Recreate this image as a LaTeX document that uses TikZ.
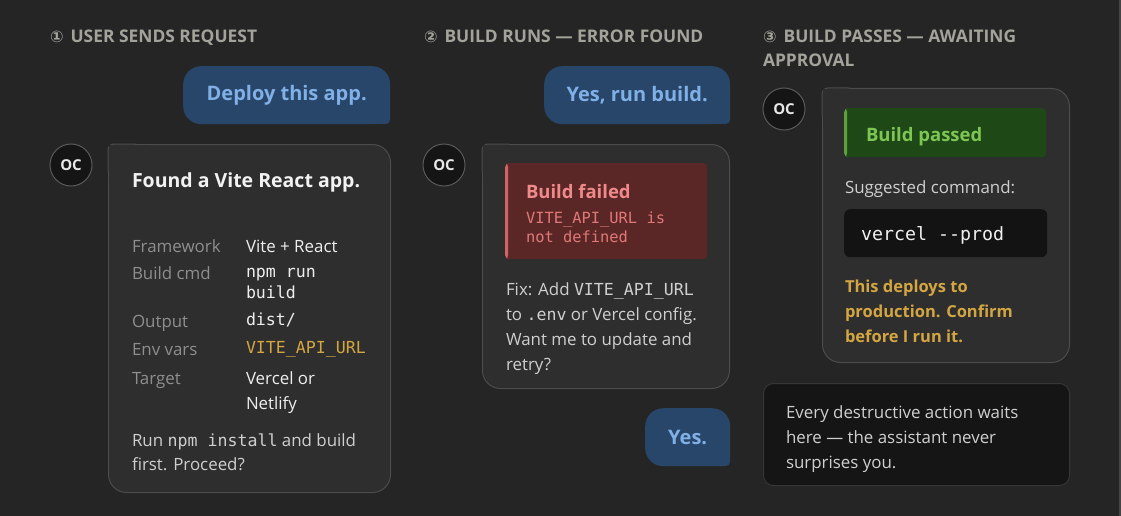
\documentclass[tikz,border=0pt]{standalone}
\usepackage{fontspec}
\setmainfont{Open Sans}
\setmonofont{DejaVu Sans Mono}
\newfontfamily\symfont{DejaVu Sans}
\definecolor{bg}{HTML}{252525}
\definecolor{edgecol}{HTML}{444444}
\definecolor{hdr}{HTML}{A3A39B}
\definecolor{ubfill}{HTML}{27466A}
\definecolor{utext}{HTML}{80B0E6}
\definecolor{abfill}{HTML}{2E2E2E}
\definecolor{abline}{HTML}{4C4C4C}
\definecolor{avfill}{HTML}{151515}
\definecolor{avline}{HTML}{5A5A5A}
\definecolor{avtext}{HTML}{E8E8E8}
\definecolor{titlecol}{HTML}{F2F2F2}
\definecolor{lbl}{HTML}{8E8E8E}
\definecolor{val}{HTML}{EEEEEE}
\definecolor{body}{HTML}{CFCFCF}
\definecolor{gold}{HTML}{D4A642}
\definecolor{redfill}{HTML}{5B2626}
\definecolor{redbar}{HTML}{D46464}
\definecolor{redtitle}{HTML}{F08A8A}
\definecolor{redmono}{HTML}{E07878}
\definecolor{greenfill}{HTML}{1F4817}
\definecolor{greenbar}{HTML}{5DA33C}
\definecolor{greentext}{HTML}{7DC653}
\definecolor{codefill}{HTML}{131313}
\definecolor{codetext}{HTML}{F0F0F0}
\definecolor{notefill}{HTML}{151515}
\definecolor{noteline}{HTML}{363636}
\newcommand\mono[1]{{\fontsize{16.6}{24}\ttfamily #1}}
\newcommand\numsym[1]{{\symfont\fontsize{16}{18}\selectfont #1}\hspace{7pt}}
\begin{document}
\begin{tikzpicture}[x=1pt,y=-1pt,
  txt/.style={anchor=base west, inner sep=0pt, outer sep=0pt, align=left},
  hdr/.style={txt, text=hdr, font=\fontsize{17.4}{24}\selectfont\bfseries},
  ububble/.style={anchor=north west, fill=ubfill, rounded corners=18pt, text=utext,
     font=\fontsize{20}{24}\selectfont\bfseries, inner sep=0pt},
  abubble/.style={anchor=north west, fill=abfill, draw=abline, line width=1pt, rounded corners=18pt, inner sep=0pt},
  avatar/.style={circle, fill=avfill, draw=avline, line width=1pt, minimum size=42pt, inner sep=0pt,
     text=avtext, font=\fontsize{15}{18}\selectfont\bfseries},
  bodytxt/.style={txt, text=body, font=\fontsize{16.9}{24.7}\selectfont},
  lbltxt/.style={txt, text=lbl, font=\fontsize{16.9}{24.5}\selectfont},
  valtxt/.style={txt, text=val, font=\fontsize{16.9}{24.5}\selectfont},
  monoval/.style={txt, text=val, font=\fontsize{16.6}{21}\selectfont\ttfamily},
]
\useasboundingbox (0,0) rectangle (1121,516);
\fill[bg] (0,0) rectangle (1121,516);
\fill[edgecol] (1118.5,0) rectangle (1121,516);

% ---------- column 1 ----------
\node[hdr] (h1) at (50,43) {\numsym{①}USER SENDS REQUEST};
\fill[ubfill, rounded corners=4pt] (370,104) rectangle (390,124);
\node[ububble, minimum width=207pt, minimum height=58pt] (u1) at (183,66) {Deploy this app.};
\node[avatar] (a1) at (71,165) {OC};
\node[abubble, minimum width=282pt, minimum height=348pt] (b1) at (108,144) {};
\path[fill=abfill, draw=abline, line width=1pt, rounded corners=6pt] (108,144) rectangle (140,176);
\fill[abfill] (108.8,144.8) rectangle (148,184);
\node[txt, text=titlecol, font=\fontsize{19.5}{24}\selectfont\bfseries] (t1) at (132,187) {Found a Vite React app.};
\node[lbltxt] (l1) at (132,252) {Framework};
\node[lbltxt] (l2) at (132,279) {Build cmd};
\node[lbltxt] (l3) at (132,327) {Output};
\node[lbltxt] (l4) at (132,355) {Env vars};
\node[lbltxt] (l5) at (132,384) {Target};
\node[valtxt] (v1) at (246,252) {Vite + React};
\node[monoval] (v2) at (246,298) {npm run\\build};
\node[monoval] (v3) at (246,325) {dist/};
\node[monoval, text=gold] (v4) at (246,353) {VITE\_API\_URL};
\node[valtxt, font=\fontsize{16.9}{25}\selectfont] (v5) at (246,409) {Vercel or\\Netlify};
\node[bodytxt, font=\fontsize{16.9}{23.5}\selectfont] (p1) at (132,470) {Run \mono{npm install} and build\\first. Proceed?};

% ---------- column 2 ----------
\node[hdr] (h2) at (424,43) {\numsym{②}BUILD RUNS — ERROR FOUND};
\fill[ubfill, rounded corners=4pt] (710,104) rectangle (730,124);
\node[ububble, minimum width=186pt, minimum height=58pt] (u2) at (544,66) {Yes, run build.};
\node[avatar] (a2) at (444,165) {OC};
\node[abubble, minimum width=247pt, minimum height=244pt] (b2) at (482,144) {};
\path[fill=abfill, draw=abline, line width=1pt, rounded corners=6pt] (482,144) rectangle (514,176);
\fill[abfill] (482.8,144.8) rectangle (520,182);
\node[anchor=north west, fill=redfill, rounded corners=4pt, minimum width=202pt, minimum height=96pt, inner sep=0pt,
   path picture={\fill[redbar] (path picture bounding box.north west) rectangle ([xshift=3pt]path picture bounding box.south west);}]
   (e2) at (505,163) {};
\node[txt, text=redtitle, font=\fontsize{18.5}{22}\selectfont\bfseries] (et) at (526,198) {Build failed};
\node[txt, text=redmono, font=\fontsize{15.4}{19}\selectfont\ttfamily] (em) at (526,242) {VITE\_API\_URL is\\not defined};
\node[bodytxt] (p2) at (506,370) {Fix: Add \mono{VITE\_API\_URL}\\to \mono{.env} or Vercel config.\\Want me to update and\\retry?};
\fill[ubfill, rounded corners=4pt] (710,446) rectangle (730,466);
\node[ububble, minimum width=85pt, minimum height=58pt] (u3) at (645,408) {Yes.};

% ---------- column 3 ----------
\node[hdr] (h3) at (763,67) {\numsym{③}BUILD PASSES — AWAITING\\APPROVAL};
\node[avatar] (a3) at (784,109) {OC};
\node[abubble, minimum width=247pt, minimum height=274pt] (b3) at (822,88) {};
\path[fill=abfill, draw=abline, line width=1pt, rounded corners=6pt] (822,88) rectangle (854,120);
\fill[abfill] (822.8,88.8) rectangle (860,126);
\node[anchor=north west, fill=greenfill, rounded corners=4pt, minimum width=202pt, minimum height=49pt, inner sep=0pt,
   path picture={\fill[greenbar] (path picture bounding box.north west) rectangle ([xshift=3pt]path picture bounding box.south west);}]
   (g3) at (844,108) {};
\node[txt, text=greentext, font=\fontsize{18.5}{22}\selectfont\bfseries] (gt) at (866,141) {Build passed};
\node[bodytxt] (s3) at (845,193) {Suggested command:};
\node[anchor=north west, fill=codefill, rounded corners=6pt, minimum width=203pt, minimum height=48pt, inner sep=0pt] (c3) at (844,209) {};
\node[txt, text=codetext, font=\fontsize{18.3}{22}\selectfont\ttfamily] (ct) at (861,240) {vercel --prod};
\node[txt, text=gold, font=\fontsize{16.5}{25}\selectfont\bfseries] (w3) at (845,342) {This deploys to\\production. Confirm\\before I run it.};
\node[anchor=north west, fill=notefill, draw=noteline, line width=1pt, rounded corners=10pt, minimum width=306pt, minimum height=102pt, inner sep=0pt] (n3) at (763,383) {};
\node[bodytxt, font=\fontsize{16.9}{25}\selectfont] (nt) at (786,468) {Every destructive action waits\\here — the assistant never\\surprises you.};
\end{tikzpicture}
\end{document}
